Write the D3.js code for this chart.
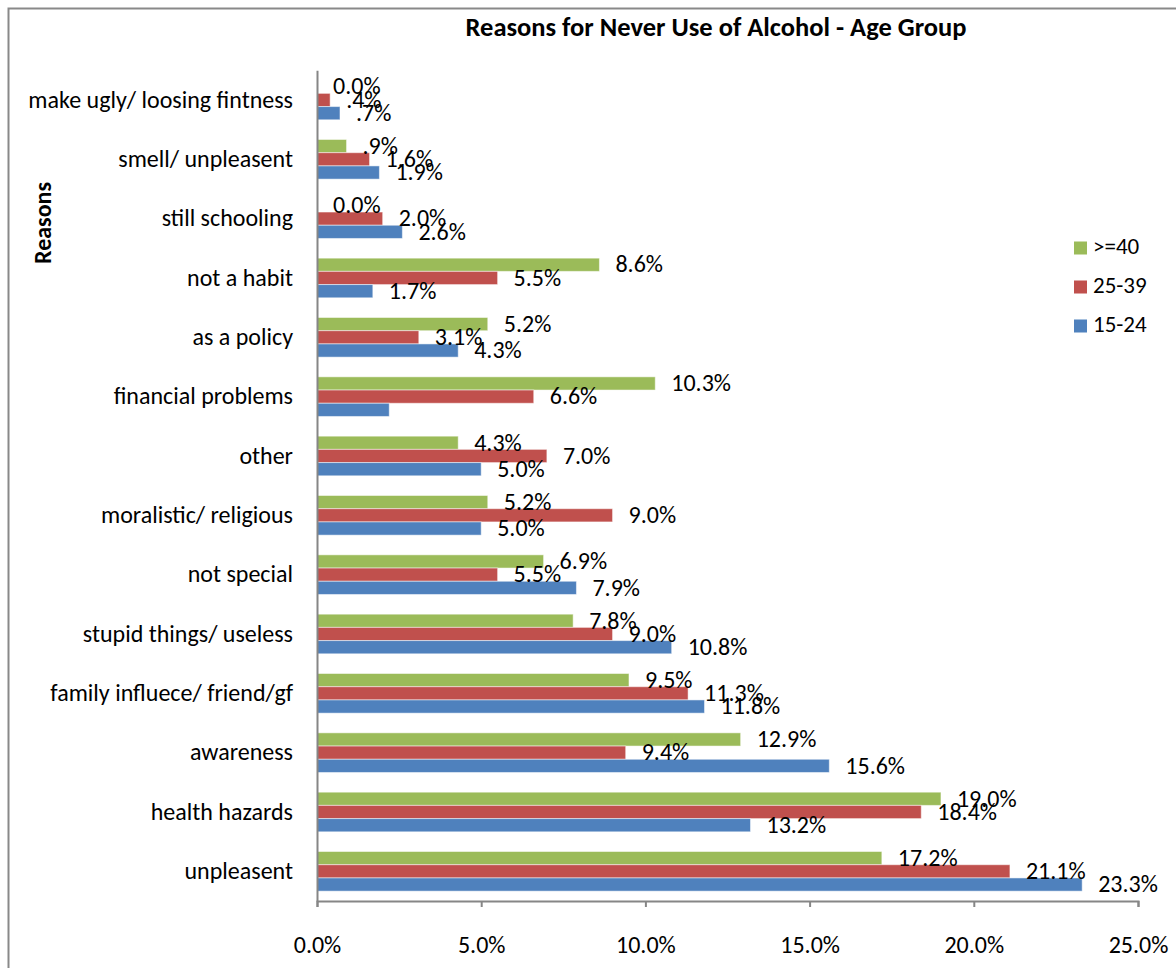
<!DOCTYPE html>
<html>
<head>
<meta charset="utf-8">
<script src="https://cdn.jsdelivr.net/npm/d3@7"></script>
<style>
  body { margin: 0; background: #fff; }
  svg text { font-family: Carlito, Calibri, "Liberation Sans", Arial, sans-serif; fill: #000; }
</style>
</head>
<body>
<div id="grafica"></div>
<script>
// Data (percent)
var reasons = ["make ugly/ loosing fintness", "smell/ unpleasent", "still schooling", "not a habit",
  "as a policy", "financial problems", "other", "moralistic/ religious", "not special",
  "stupid things/ useless", "family influece/ friend/gf", "awareness", "health hazards", "unpleasent"];
var seriesNames = [">=40", "25-39", "15-24"];
var age40plus = [0.0, 0.9, 0.0, 8.6, 5.2, 10.3, 4.3, 5.2, 6.9, 7.8, 9.5, 12.9, 19.0, 17.2];
var age25to39 = [0.4, 1.6, 2.0, 5.5, 3.1, 6.6, 7.0, 9.0, 5.5, 9.0, 11.3, 9.4, 18.4, 21.1];
var age15to24 = [0.7, 1.9, 2.6, 1.7, 4.3, 2.2, 5.0, 5.0, 7.9, 10.8, 11.8, 15.6, 13.2, 23.3];
var xTicks = [0, 5, 10, 15, 20, 25];
// label that is missing in the original
var noLabel = [{ reason: "financial problems", series: "15-24" }];

var colors = { ">=40": "#9BBB59", "25-39": "#C0504D", "15-24": "#4F81BD" };
var seriesValues = { ">=40": age40plus, "25-39": age25to39, "15-24": age15to24 };

var W = 1176, H = 968;
var svg = d3.select("#grafica").append("svg")
  .attr("width", W)
  .attr("height", H);

// chart border
svg.append("rect")
  .attr("x", 8.5).attr("y", 8.5)
  .attr("width", 1200).attr("height", 1000)
  .attr("fill", "none")
  .attr("stroke", "#898989")
  .attr("stroke-width", 2);

var plot = { left: 317, right: 1138, top: 70.3, bottom: 901 };

// scales
var x = d3.scaleLinear().domain([0, 25]).range([plot.left, plot.right]);
var y = d3.scaleBand().domain(reasons).range([plot.top, plot.bottom]);
var ySub = d3.scaleBand().domain(seriesNames)
  .range([y.bandwidth() * 0.166, y.bandwidth() * 0.834]);

// flat data
var data = [];
seriesNames.forEach(function (s) {
  seriesValues[s].forEach(function (v, i) {
    data.push({ reason: reasons[i], series: s, value: v });
  });
});

function fmt(v) {
  if (v === 0) return "0.0%";
  if (v < 1) return "." + Math.round(v * 10) + "%";
  return v.toFixed(1) + "%";
}

// bars
svg.append("g")
  .selectAll("rect")
  .data(data)
  .enter()
  .append("rect")
  .attr("x", x(0))
  .attr("y", function (d) { return y(d.reason) + ySub(d.series); })
  .attr("width", function (d) { return x(d.value) - x(0); })
  .attr("height", ySub.bandwidth())
  .attr("fill", function (d) { return colors[d.series]; })
  .attr("stroke", "rgba(255,255,255,0.5)")
  .attr("stroke-width", 1);

// data labels
svg.append("g")
  .selectAll("text")
  .data(data.filter(function (d) {
    return !noLabel.some(function (n) { return n.reason === d.reason && n.series === d.series; });
  }))
  .enter()
  .append("text")
  .attr("x", function (d) { return x(d.value) + 16; })
  .attr("y", function (d) { return y(d.reason) + ySub(d.series) + ySub.bandwidth() / 2 + 2; })
  .attr("dominant-baseline", "middle")
  .style("font-size", "24px")
  .text(function (d) { return fmt(d.value); });

// x axis
var xAxis = svg.append("g")
  .attr("transform", "translate(0," + plot.bottom + ")")
  .call(d3.axisBottom(x).tickValues(xTicks).tickSize(6).tickPadding(29)
    .tickFormat(function (d) { return d.toFixed(1) + "%"; }));
xAxis.select(".domain").attr("stroke", "#868686").attr("stroke-width", 2);
xAxis.selectAll(".tick line").attr("stroke", "#868686").attr("stroke-width", 2);
xAxis.selectAll("text").style("font-size", "24px").attr("fill", "#000");

// y axis
var yAxis = svg.append("g")
  .attr("transform", "translate(" + plot.left + ",0)")
  .call(d3.axisLeft(y).tickSize(0).tickPadding(24));
yAxis.select(".domain").attr("stroke", "#868686").attr("stroke-width", 2);
yAxis.selectAll("text").style("font-size", "24px").attr("fill", "#000");

// title
svg.append("text")
  .attr("x", 716)
  .attr("y", 30)
  .attr("text-anchor", "middle")
  .attr("dominant-baseline", "middle")
  .style("font-size", "26.5px")
  .style("font-weight", "bold")
  .text("Reasons for Never Use of Alcohol - Age Group");

// y axis title
svg.append("text")
  .attr("transform", "translate(45,223) rotate(-90)")
  .attr("text-anchor", "middle")
  .attr("dominant-baseline", "middle")
  .style("font-size", "24px")
  .style("font-weight", "bold")
  .text("Reasons");

// legend
var legend = svg.append("g")
  .selectAll("g")
  .data(seriesNames)
  .enter()
  .append("g")
  .attr("transform", function (d, i) { return "translate(1074," + (248 + i * 39) + ")"; });
legend.append("rect")
  .attr("x", 0).attr("y", -6.5)
  .attr("width", 13).attr("height", 13)
  .attr("fill", function (d) { return colors[d]; });
legend.append("text")
  .attr("x", 19)
  .attr("y", 1)
  .attr("dominant-baseline", "middle")
  .style("font-size", "23px")
  .text(function (d) { return d; });
</script>
</body>
</html>
